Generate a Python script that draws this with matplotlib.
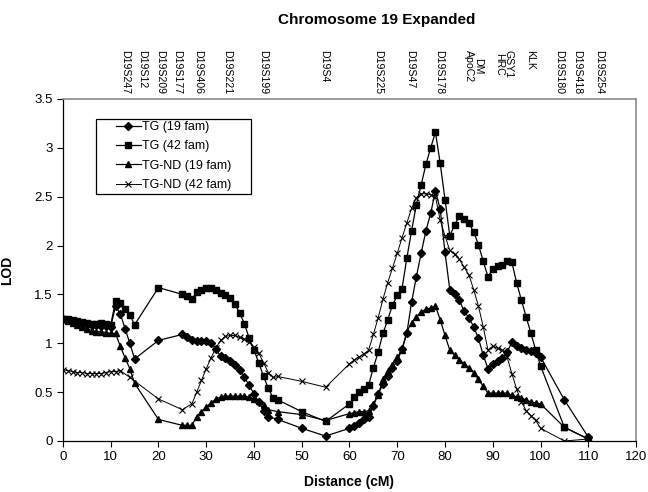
import numpy as np
import matplotlib
matplotlib.use("Agg")
import matplotlib.pyplot as plt
import matplotlib.transforms as mtransforms
from matplotlib.patches import Rectangle

plt.rcParams["font.family"] = ["Liberation Sans", "DejaVu Sans"]

# ------------------------------------------------------
# LOD scores (distance in cM)
# ------------------------------------------------------
tg19_x = [0, 1, 2, 3, 4, 5, 6, 7, 8, 9, 10, 11, 12, 13, 14, 15, 20, 25, 26, 27, 28, 29,
          30, 31, 32, 33, 34, 35, 36, 37, 38, 39, 40, 41, 42, 43, 45, 50, 55,
          60, 61, 62, 63, 64, 65, 66, 67, 68, 69, 70, 71, 72, 73, 74, 75, 76, 77, 78, 79,
          80, 81, 82, 83, 84, 85, 86, 87, 88, 89, 90, 91, 92, 93, 94, 95, 96, 97, 98, 99,
          100, 105, 110]
tg19_y = [1.25, 1.24, 1.23, 1.22, 1.21, 1.20, 1.19, 1.19, 1.18, 1.18, 1.17, 1.38, 1.30, 1.15,
          1.00, 0.84, 1.03, 1.09, 1.06, 1.03, 1.02, 1.02,
          1.02, 1.00, 0.94, 0.87, 0.85, 0.82, 0.78, 0.73, 0.65, 0.57, 0.48, 0.40, 0.31, 0.25,
          0.22, 0.13, 0.05,
          0.13, 0.15, 0.18, 0.22, 0.25, 0.36, 0.48, 0.58, 0.67, 0.75, 0.82, 0.94, 1.10, 1.42,
          1.68, 1.92, 2.15, 2.33, 2.56, 2.37,
          1.93, 1.55, 1.50, 1.44, 1.33, 1.26, 1.17, 1.05, 0.88, 0.74, 0.79, 0.82, 0.85, 0.91,
          1.01, 0.97, 0.95, 0.93, 0.92, 0.90,
          0.86, 0.42, 0.04]

tg42_x = [0, 1, 2, 3, 4, 5, 6, 7, 8, 9, 10, 11, 12, 13, 14, 15, 20, 25, 26, 27, 28, 29,
          30, 31, 32, 33, 34, 35, 36, 37, 38, 39, 40, 41, 42, 43, 44, 45, 50, 55,
          60, 61, 62, 63, 64, 65, 66, 67, 68, 69, 70, 71, 72, 73, 74, 75, 76, 77, 78, 79,
          80, 81, 82, 83, 84, 85, 86, 87, 88, 89, 90, 91, 92, 93, 94, 95, 96, 97, 98, 99,
          100, 105, 110]
tg42_y = [1.25, 1.25, 1.24, 1.23, 1.22, 1.21, 1.20, 1.20, 1.21, 1.20, 1.19, 1.43, 1.41, 1.35,
          1.29, 1.19, 1.57, 1.50, 1.48, 1.45, 1.52, 1.55,
          1.57, 1.57, 1.55, 1.51, 1.49, 1.46, 1.40, 1.31, 1.20, 1.05, 0.93, 0.80, 0.66, 0.54,
          0.44, 0.42, 0.30, 0.20,
          0.38, 0.45, 0.50, 0.53, 0.57, 0.75, 0.91, 1.10, 1.24, 1.39, 1.49, 1.56, 1.87, 2.15,
          2.42, 2.62, 2.83, 3.00, 3.16, 2.84,
          2.47, 2.10, 2.21, 2.30, 2.27, 2.23, 2.14, 2.01, 1.84, 1.68, 1.76, 1.79, 1.80, 1.84,
          1.83, 1.62, 1.44, 1.27, 1.10, 0.93,
          0.77, 0.14, 0.02]

tgnd19_x = [0, 1, 2, 3, 4, 5, 6, 7, 8, 9, 10, 11, 12, 13, 14, 15, 20, 25, 26, 27, 28, 29,
            30, 31, 32, 33, 34, 35, 36, 37, 38, 39, 40, 41, 42, 43, 45, 50, 55,
            60, 61, 62, 63, 64, 65, 66, 67, 68, 69, 70, 71, 72, 73, 74, 75, 76, 77, 78, 79,
            80, 81, 82, 83, 84, 85, 86, 87, 88, 89, 90, 91, 92, 93, 94, 95, 96, 97, 98, 99,
            100, 105, 110]
tgnd19_y = [1.25, 1.23, 1.21, 1.19, 1.17, 1.15, 1.13, 1.12, 1.12, 1.11, 1.10, 1.10, 0.97,
            0.85, 0.74, 0.59, 0.22, 0.16, 0.16, 0.16, 0.25, 0.30,
            0.35, 0.39, 0.43, 0.45, 0.46, 0.46, 0.46, 0.46, 0.46, 0.45, 0.43, 0.41, 0.37, 0.32,
            0.30, 0.27, 0.21,
            0.28, 0.29, 0.30, 0.30, 0.31, 0.38, 0.47, 0.63, 0.72, 0.78, 0.86, 0.93, 1.12, 1.21,
            1.27, 1.32, 1.35, 1.36, 1.38, 1.24,
            1.08, 0.93, 0.88, 0.83, 0.79, 0.75, 0.70, 0.63, 0.56, 0.49, 0.49, 0.49, 0.49, 0.49,
            0.47, 0.45, 0.44, 0.42, 0.40, 0.39,
            0.38, 0.14, 0.02]

tgnd42_x = [0, 1, 2, 3, 4, 5, 6, 7, 8, 9, 10, 11, 12, 14, 20, 25, 27, 28, 29,
            30, 31, 32, 33, 34, 35, 36, 37, 38, 39, 40, 41, 42, 43, 44, 45, 50, 55,
            60, 61, 62, 63, 64, 65, 66, 67, 68, 69, 70, 71, 72, 73, 74, 75, 76, 77, 78, 79,
            80, 81, 82, 83, 84, 85, 86, 87, 88, 89, 90, 91, 92, 93, 94, 95, 96, 97, 98, 99,
            100, 105, 110]
tgnd42_y = [0.73, 0.72, 0.71, 0.70, 0.70, 0.69, 0.69, 0.69, 0.69, 0.70, 0.71, 0.71, 0.72,
            0.65, 0.43, 0.32, 0.38, 0.50, 0.62,
            0.74, 0.85, 0.95, 1.03, 1.07, 1.08, 1.08, 1.06, 1.04, 1.01, 0.96, 0.90, 0.80, 0.70,
            0.65, 0.66, 0.61, 0.55,
            0.79, 0.83, 0.86, 0.89, 0.93, 1.09, 1.26, 1.45, 1.62, 1.77, 1.92, 2.08, 2.23, 2.38,
            2.49, 2.53, 2.53, 2.52, 2.50, 2.26,
            2.10, 1.95, 1.91, 1.86, 1.78, 1.70, 1.55, 1.38, 1.17, 0.93, 0.97, 0.95, 0.93, 0.86,
            0.69, 0.53, 0.40, 0.31, 0.26, 0.21,
            0.13, 0.00, 0.02]

# marker names along the top, and where they sit (on the cM scale of the axes)
marker_names = ["D19S247", "D19S12", "D19S209", "D19S177", "D19S406", "D19S221", "D19S199",
                "D19S4", "D19S225", "D19S47", "D19S178", "DM\nApoC2", "GSY1\nHRC", "KLK",
                "D19S180", "D19S418", "D19S254"]
marker_pos = [13.0, 16.5, 20.3, 24.0, 28.4, 34.4, 42.0, 54.6, 65.9, 72.6, 78.7, 86.0, 92.3,
              97.9, 103.8, 107.7, 112.2]

x_ticks = list(range(0, 121, 10))
y_ticks = [0, 0.5, 1, 1.5, 2, 2.5, 3, 3.5]
y_tick_labels = ["0", "0.5", "1", "1.5", "2", "2.5", "3", "3.5"]


def main():
    fig = plt.figure(figsize=(6.48, 4.92), dpi=100)
    ax = fig.add_axes([0.0972, 0.1037, 0.8843, 0.6951])

    lw = 0.9
    ax.plot(tg19_x, tg19_y, color="black", lw=lw, marker="D", ms=3.6,
            label="TG (19 fam)")
    ax.plot(tg42_x, tg42_y, color="black", lw=lw, marker="s", ms=4.4,
            label="TG (42 fam)")
    ax.plot(tgnd19_x, tgnd19_y, color="black", lw=lw, marker="^", ms=4.8,
            label="TG-ND (19 fam)")
    ax.plot(tgnd42_x, tgnd42_y, color="black", lw=0.7, marker="x", ms=4.2, mew=0.8,
            label="TG-ND (42 fam)")

    ax.set_xlim(0, 120)
    ax.set_ylim(0, 3.5)
    ax.set_xticks(x_ticks)
    ax.set_yticks(y_ticks)
    ax.set_yticklabels(y_tick_labels)
    ax.tick_params(direction="out", length=4, width=0.8, labelsize=9.5, colors="black")

    for side in ["top", "right"]:
        ax.spines[side].set_color("#8c8c8c")
        ax.spines[side].set_linewidth(1.2)
    for side in ["left", "bottom"]:
        ax.spines[side].set_color("black")
        ax.spines[side].set_linewidth(0.9)

    ax.set_xlabel("Distance (cM)", fontsize=10, fontweight="bold", labelpad=8)
    ax.set_ylabel("LOD", fontsize=10, fontweight="bold", labelpad=14)

    # legend box (Excel style: wide frame with generous side padding)
    ax.add_patch(Rectangle((0.0576, 0.722), 0.2705, 0.219, transform=ax.transAxes,
                           facecolor="white", edgecolor="black", lw=0.9, zorder=4))
    leg = ax.legend(loc="upper left", bbox_to_anchor=(0.092, 0.935), fontsize=9,
                    frameon=False, handlelength=2.0, handletextpad=0.1, borderpad=0,
                    labelspacing=0.58, borderaxespad=0)
    leg.set_zorder(5)

    fig.text(377 / 648, 1 - 20 / 492, "Chromosome 19 Expanded", fontsize=11,
             fontweight="bold", ha="center", va="center")

    trans = mtransforms.blended_transform_factory(ax.transData, fig.transFigure)
    for name, pos in zip(marker_names, marker_pos):
        ax.text(pos, 1 - 50 / 492, name, transform=trans, rotation=270, fontsize=7.6,
                ha="center", va="top", linespacing=0.85, clip_on=False)

    fig.savefig("out.png", dpi=100)
    plt.close(fig)


if __name__ == "__main__":
    main()
